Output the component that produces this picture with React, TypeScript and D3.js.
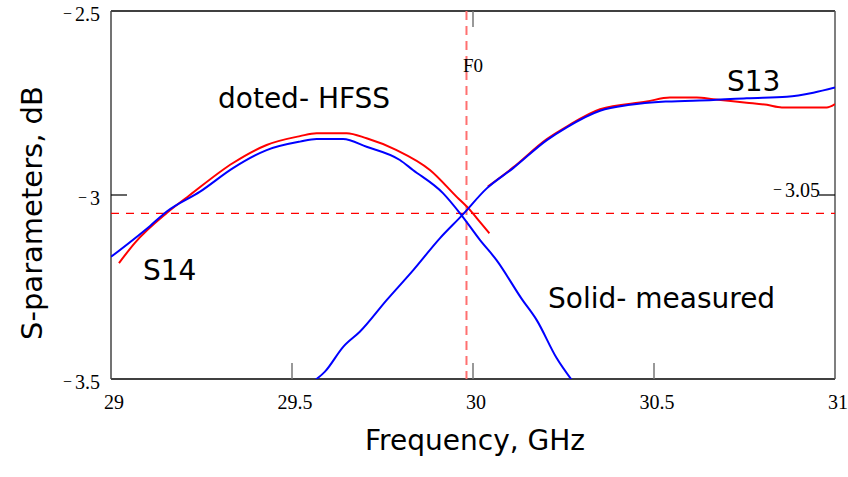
import React from 'react'
import * as d3 from 'd3'

// frequency (GHz) / dB pairs
const s14Measured: [number, number][] = [
    [29.0, -3.168], [29.108, -3.084], [29.154, -3.045], [29.246, -2.991],
    [29.337, -2.927], [29.43, -2.878], [29.522, -2.855], [29.568, -2.848],
    [29.641, -2.848], [29.706, -2.869], [29.798, -2.905], [29.834, -2.932],
    [29.917, -2.995], [29.969, -3.056], [30.019, -3.122], [30.065, -3.177],
    [30.135, -3.283], [30.176, -3.34], [30.231, -3.443], [30.273, -3.503],
]
const s14Hfss: [number, number][] = [
    [29.022, -3.185], [29.066, -3.13], [29.154, -3.049], [29.218, -3.0],
    [29.337, -2.913], [29.43, -2.864], [29.522, -2.84], [29.568, -2.832],
    [29.651, -2.832], [29.706, -2.846], [29.789, -2.878], [29.881, -2.932],
    [29.955, -3.005], [29.992, -3.041], [30.019, -3.073], [30.045, -3.104],
]
const s13Measured: [number, number][] = [
    [29.564, -3.503], [29.591, -3.48], [29.642, -3.412], [29.688, -3.371],
    [29.762, -3.285], [29.835, -3.204], [29.909, -3.117], [29.969, -3.056],
    [30.038, -2.982], [30.111, -2.927], [30.204, -2.851], [30.259, -2.816],
    [30.351, -2.771], [30.434, -2.755], [30.535, -2.746], [30.664, -2.742],
    [30.756, -2.737], [30.867, -2.733], [30.94, -2.722], [31.0, -2.708],
]
const s13Hfss: [number, number][] = [
    [30.041, -2.977], [30.111, -2.925], [30.204, -2.848], [30.259, -2.814],
    [30.351, -2.767], [30.48, -2.746], [30.544, -2.735], [30.618, -2.735],
    [30.664, -2.74], [30.756, -2.749], [30.812, -2.755], [30.853, -2.762],
    [30.977, -2.762], [31.0, -2.753],
]
const xTicks = [29, 29.5, 30, 30.5, 31]
const yTicks = [-2.5, -3, -3.5]
const f0 = 29.982
const refLevel = -3.05

const W = 848
const H = 477
const [left, top, right, bottom] = [111, 11, 835, 379]
const comic = "'Comic Sans MS', 'DejaVu Sans', sans-serif"
const serif = "'Liberation Serif', 'Times New Roman', serif"

function Neg({ v, x, y }: { v: number; x: number; y: number }) {
    const s = Math.abs(v).toString()
    return (
        <text x={x} y={y} textAnchor='end' fontFamily={serif} fontSize={20}>
            <tspan fontSize={16} dy={-2}>−</tspan>
            <tspan dx={3} dy={2}>{s}</tspan>
        </text>
    )
}

export default function App() {
    const x = d3.scaleLinear().domain([29, 31]).range([left, right])
    const y = d3.scaleLinear().domain([-2.5, -3.5]).range([top, bottom])
    const line = d3
        .line<[number, number]>()
        .x(d => x(d[0]))
        .y(d => y(d[1]))
        .curve(d3.curveMonotoneX)
    const path = (d: [number, number][]) => line(d) ?? ''

    return (
        <div style={{ position: 'absolute', left: 0, top: 0 }}>
            <svg width={W} height={H} style={{ display: 'block', background: 'white' }}>
                <defs>
                    <clipPath id='plot'>
                        <rect x={left} y={top} width={right - left} height={bottom - top} />
                    </clipPath>
                </defs>

                {/* frame */}
                <line x1={left} x2={right} y1={top} y2={top} stroke='black' strokeWidth={1.5} />
                <line x1={left} x2={right} y1={bottom} y2={bottom} stroke='black' strokeWidth={1.5} />
                <line x1={left} x2={left} y1={top} y2={bottom} stroke='#444' strokeWidth={1.5} />
                <line x1={right} x2={right} y1={top} y2={bottom} stroke='#555' strokeWidth={1.5} />

                {/* ticks */}
                {xTicks.slice(1, -1).map(t => (
                    <line key={t} x1={x(t)} x2={x(t)} y1={bottom} y2={bottom - 16} stroke='#777' strokeWidth={1.5} />
                ))}
                <line x1={x(30)} x2={x(30)} y1={top} y2={top + 16} stroke='#777' strokeWidth={1.5} />
                <line x1={left} x2={left + 16} y1={y(-3)} y2={y(-3)} stroke='black' strokeWidth={1.2} />
                <line x1={right - 16} x2={right} y1={y(-3)} y2={y(-3)} stroke='black' strokeWidth={1.2} />

                {/* tick labels */}
                {xTicks.map(t => (
                    <text key={t} x={x(t) + 3} y={bottom + 30} textAnchor='middle' fontFamily={serif} fontSize={20}>
                        {t}
                    </text>
                ))}
                {yTicks.map(t => (
                    <Neg key={t} v={t} x={left - 11} y={y(t) + 10} />
                ))}
                <Neg v={refLevel} x={right - 15} y={y(-3) + 2} />

                {/* markers */}
                <line x1={left} x2={right} y1={y(refLevel)} y2={y(refLevel)} stroke='#ff0000' strokeWidth={1.3} strokeDasharray='8,7' />
                <line x1={x(f0)} x2={x(f0)} y1={top} y2={bottom} stroke='#ff7070' strokeWidth={2} strokeDasharray='9,6' />
                <text x={x(30)} y={72} textAnchor='middle' fontFamily={serif} fontSize={19}>F0</text>

                {/* curves */}
                <g clipPath='url(#plot)' fill='none' strokeWidth={2}>
                    <path d={path(s14Hfss)} stroke='#ff0000' />
                    <path d={path(s13Hfss)} stroke='#ff0000' />
                    <path d={path(s14Measured)} stroke='#0000ff' />
                    <path d={path(s13Measured)} stroke='#0000ff' />
                </g>

                {/* annotations */}
                <g fontFamily={comic} fontSize={28} fill='black'>
                    <text x={218} y={108}>doted- HFSS</text>
                    <text x={727} y={91}>S13</text>
                    <text x={143} y={280}>S14</text>
                    <text x={548} y={308}>Solid- measured</text>
                </g>

                {/* axis titles */}
                <text x={(left + right) / 2 + 2} y={450} textAnchor='middle' fontFamily={comic} fontSize={28}>
                    Frequency, GHz
                </text>
                <text
                    transform={`translate(42, ${(top + bottom) / 2 + 18}) rotate(-90)`}
                    textAnchor='middle'
                    fontFamily={comic}
                    fontSize={29}
                >
                    S-parameters, dB
                </text>
            </svg>
        </div>
    )
}
